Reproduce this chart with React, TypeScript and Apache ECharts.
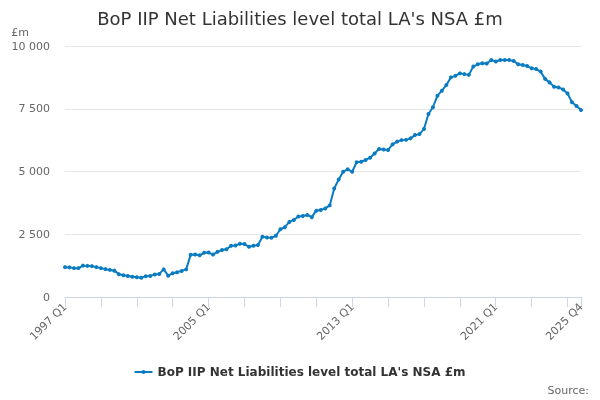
import React, { useEffect, useRef } from "react";
import * as echarts from "echarts";

const TITLE = "BoP IIP Net Liabilities level total LA's NSA £m";
const SERIES_NAME = "BoP IIP Net Liabilities level total LA's NSA £m";
const FIRST_YEAR = 1997;
const LAST_YEAR = 2025;
const QUARTERS = ["Q1", "Q2", "Q3", "Q4"];

const categories: string[] = [];
for (let y = FIRST_YEAR; y <= LAST_YEAR; y++) {
  for (const q of QUARTERS) categories.push(`${y} ${q}`);
}

const values1997to2004 = [
  1190, 1180, 1150, 1150,
  1250, 1240, 1230, 1190,
  1150, 1110, 1080, 1050,
  910, 870, 840, 810,
  790, 770, 830, 840,
  900, 920, 1100, 850,
  950, 990, 1040, 1100,
  1680, 1690, 1660, 1760,
];
const values2005to2012 = [
  1770, 1690, 1800, 1870,
  1900, 2040, 2050, 2120,
  2110, 2000, 2040, 2070,
  2400, 2370, 2360, 2440,
  2700, 2780, 2990, 3070,
  3210, 3230, 3270, 3180,
  3440, 3470, 3530, 3650,
  4320, 4680, 4990, 5090,
];
const values2013to2020 = [
  4990, 5370, 5390, 5460,
  5550, 5720, 5900, 5880,
  5860, 6080, 6190, 6250,
  6260, 6320, 6450, 6490,
  6690, 7290, 7560, 8020,
  8220, 8450, 8750, 8810,
  8910, 8880, 8850, 9180,
  9270, 9310, 9300, 9440,
];
const values2021to2025 = [
  9380, 9440, 9440, 9440,
  9400, 9270, 9240, 9200,
  9110, 9080, 8980, 8690,
  8550, 8380, 8350, 8270,
  8110, 7760, 7610, 7450,
];
const values = [...values1997to2004, ...values2005to2012, ...values2013to2020, ...values2021to2025];

const Y_MIN = 0;
const Y_MAX = 10000;
const Y_INTERVAL = 2500;
const Y_UNIT = "£m";
const SOURCE_TEXT = "Source:";

const FONT = "DejaVu Sans";
const COLOR = "#0b7cc1";

export default function App() {
  const ref = useRef<HTMLDivElement>(null);
  useEffect(() => {
    if (!ref.current) return;
    const chart = echarts.init(ref.current, undefined, { renderer: "svg" });
    const last = categories.length - 1;
    chart.setOption({
      animation: false,
      textStyle: { fontFamily: FONT },
      title: {
        text: TITLE,
        left: "center",
        top: 4,
        textStyle: { fontFamily: FONT, fontSize: 18, fontWeight: "normal", color: "#333333" },
      },
      legend: {
        bottom: 17,
        left: "center",
        itemWidth: 18,
        itemHeight: 8,
        data: [{ name: SERIES_NAME, icon: "path://M0,4 L18,4 L18,6 L0,6 Z M9,3 A2,2 0 1 1 9,7 A2,2 0 1 1 9,3 Z" }],
        textStyle: { fontFamily: FONT, fontSize: 12, fontWeight: "bold", color: "#333333" },
      },
      graphic: [
        {
          type: "text",
          right: 11,
          bottom: 4,
          style: { text: SOURCE_TEXT, fill: "#666666", fontFamily: FONT, fontSize: 11 },
        },
      ],
      grid: { left: 65, right: 19, top: 46, bottom: 103, containLabel: false },
      xAxis: {
        type: "category",
        data: categories,
        boundaryGap: false,
        axisLine: { lineStyle: { color: "#ccd6eb", width: 1 } },
        axisTick: {
          show: true,
          length: 10,
          lineStyle: { color: "#ccd6eb" },
          interval: (i: number) => i % 8 === 0 || i === last,
        },
        axisLabel: {
          rotate: 45,
          color: "#666666",
          fontSize: 11,
          fontFamily: FONT,
          margin: 8,
          interval: (i: number) => i % 32 === 0 || i === last,
        },
        splitLine: { show: false },
      },
      yAxis: {
        type: "value",
        min: Y_MIN,
        max: Y_MAX,
        interval: Y_INTERVAL,
        name: Y_UNIT,
        nameLocation: "end",
        nameGap: 8,
        nameTextStyle: { color: "#666666", fontSize: 11, fontFamily: FONT, align: "right", padding: [0, 36, 0, 0] },
        axisLine: { show: false },
        axisTick: { show: false },
        axisLabel: {
          color: "#666666",
          fontSize: 11,
          fontFamily: FONT,
          margin: 15,
          formatter: (v: number) => String(v).replace(/\B(?=(\d{3})+(?!\d))/g, " "),
        },
        splitLine: { lineStyle: { color: "#e6e6e6" } },
      },
      series: [
        {
          name: SERIES_NAME,
          type: "line",
          data: values,
          symbol: "circle",
          symbolSize: 4,
          showSymbol: true,
          showAllSymbol: true,
          itemStyle: { color: COLOR },
          lineStyle: { color: COLOR, width: 2 },
        },
      ],
    });
    return () => chart.dispose();
  }, []);
  return <div ref={ref} style={{ position: "fixed", left: 0, top: 0, width: 600, height: 400 }} />;
}
